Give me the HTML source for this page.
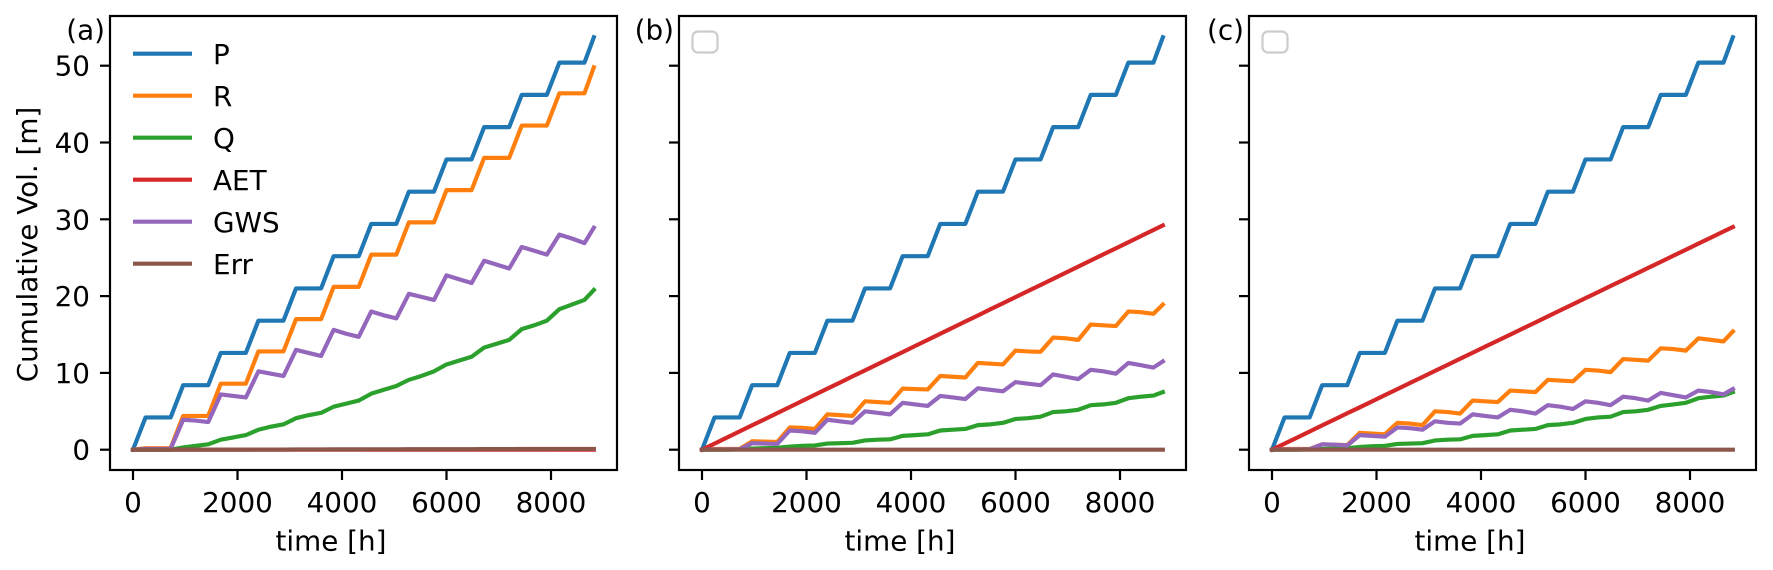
<!DOCTYPE html>
<html>
<head>
<meta charset="utf-8">
<title>Cumulative volumes</title>
<style>
html,body{margin:0;padding:0;background:#fff;width:1773px;height:570px;overflow:hidden}
svg{display:block}
text{font-family:"DejaVu Sans","Liberation Sans",sans-serif;fill:#000}
</style>
</head>
<body>
<svg id="chart" xmlns="http://www.w3.org/2000/svg" width="1773" height="570" viewBox="0 0 1773 570"></svg>
<script>
const timeHours = [0,240,480,720,960,1200,1440,1680,1920,2160,2400,2640,2880,3120,3360,3600,3840,4080,4320,4560,4800,5040,5280,5520,5760,6000,6240,6480,6720,6960,7200,7440,7680,7920,8160,8400,8640,8820];
const xTickValues = [0,2000,4000,6000,8000];
const yTickValues = [0,10,20,30,40,50];
const seriesNames = ['P','R','Q','AET','GWS','Err'];
const panelLetters = ['(a)','(b)','(c)'];

const precipitation = [0,4.2,4.2,4.2,8.4,8.4,8.4,12.6,12.6,12.6,16.8,16.8,16.8,21,21,21,25.2,25.2,25.2,29.4,29.4,29.4,33.6,33.6,33.6,37.8,37.8,37.8,42,42,42,46.2,46.2,46.2,50.4,50.4,50.4,53.7];

const panelA_R = [0,.2,.2,.2,4.4,4.4,4.4,8.6,8.6,8.6,12.8,12.8,12.8,17,17,17,21.2,21.2,21.2,25.4,25.4,25.4,29.6,29.6,29.6,33.8,33.8,33.8,38,38,38,42.2,42.2,42.2,46.4,46.4,46.4,49.8];
const panelA_Q = [0,0,0,0,.3,.5,.7,1.3,1.6,1.9,2.6,3,3.3,4.1,4.5,4.8,5.6,6,6.4,7.3,7.8,8.3,9.1,9.6,10.2,11.1,11.6,12.1,13.3,13.8,14.3,15.7,16.2,16.8,18.3,18.9,19.5,20.8];
const panelA_AET = [0,0,0,0,0,0,0,0,0,0,0,0,0,0,0,0,0,0,0,0,0,0,0,0,0,0,0,0,0,0,0,0,0,0,0,0,0,0];
const panelA_GWS = [0,.1,.1,.1,3.9,3.8,3.6,7.2,7,6.8,10.2,9.9,9.6,13,12.6,12.2,15.6,15.1,14.7,18,17.5,17.1,20.3,19.9,19.5,22.7,22.2,21.7,24.6,24.1,23.6,26.4,25.9,25.4,28,27.5,26.9,28.9];
const panelA_Err = [0,0,0,0,0,0,0,.01,.01,.01,.02,.02,.02,.03,.03,.03,.04,.04,.04,.05,.05,.05,.06,.06,.06,.07,.07,.07,.08,.08,.08,.09,.09,.09,.1,.1,.1,.1];

const panelB_R = [0,.1,.1,.1,1.1,1.05,1,2.9,2.85,2.7,4.6,4.5,4.4,6.3,6.2,6.1,7.95,7.9,7.85,9.6,9.5,9.4,11.3,11.2,11.1,12.9,12.8,12.75,14.6,14.5,14.3,16.3,16.2,16.1,18,17.9,17.7,18.9];
const panelB_Q = [0,0,0,.05,.15,.2,.25,.4,.5,.55,.8,.85,.9,1.2,1.3,1.35,1.8,1.9,2,2.5,2.6,2.7,3.2,3.3,3.5,4,4.1,4.3,4.9,5,5.2,5.8,5.9,6.1,6.7,6.9,7.05,7.5];
const panelB_AET = [0,.79,1.59,2.38,3.18,3.97,4.77,5.56,6.36,7.15,7.95,8.74,9.54,10.33,11.12,11.92,12.71,13.51,14.3,15.1,15.89,16.69,17.48,18.28,19.07,19.86,20.66,21.45,22.25,23.04,23.84,24.63,25.43,26.22,27.02,27.81,28.61,29.2];
const panelB_GWS = [0,.05,.05,.05,.85,.8,.75,2.5,2.4,2.2,3.9,3.7,3.5,5,4.8,4.6,6.1,5.9,5.7,7,6.8,6.6,8,7.8,7.6,8.8,8.6,8.4,9.8,9.5,9.2,10.4,10.2,9.9,11.3,11,10.7,11.5];
const panelB_Err = [0,0,0,0,0,0,0,0,0,0,0,0,0,0,0,0,0,0,0,0,0,0,0,0,0,0,0,0,0,0,0,0,0,0,0,0,0,0];

const panelC_R = [0,.1,.1,.1,.7,.65,.6,2.2,2.1,2,3.5,3.4,3.2,5,4.9,4.7,6.4,6.3,6.2,7.7,7.6,7.5,9.1,9,8.9,10.4,10.3,10.1,11.8,11.7,11.6,13.2,13.1,12.9,14.5,14.3,14.1,15.4];
const panelC_Q = [0,0,0,.05,.1,.15,.2,.35,.45,.5,.75,.8,.85,1.2,1.3,1.35,1.8,1.9,2,2.5,2.6,2.7,3.2,3.3,3.5,4,4.2,4.3,4.9,5,5.2,5.7,5.9,6.1,6.7,6.9,7.05,7.5];
const panelC_AET = [0,.79,1.58,2.37,3.16,3.95,4.74,5.52,6.31,7.1,7.89,8.68,9.47,10.26,11.05,11.84,12.63,13.42,14.2,14.99,15.78,16.57,17.36,18.15,18.94,19.73,20.52,21.31,22.1,22.88,23.67,24.46,25.25,26.04,26.83,27.62,28.41,29];
const panelC_GWS = [0,.05,.05,.05,.7,.65,.55,1.9,1.8,1.7,2.9,2.8,2.6,3.7,3.5,3.4,4.6,4.4,4.2,5.2,5,4.7,5.8,5.6,5.3,6.3,6.1,5.8,6.9,6.7,6.4,7.4,7.1,6.8,7.7,7.5,7.2,7.9];
const panelC_Err = [0,0,0,0,0,0,0,0,0,0,0,0,0,0,0,0,0,0,0,0,0,0,0,0,0,0,0,0,0,0,0,0,0,0,0,0,0,0];

const seriesColors = ['#1f77b4','#ff7f0e','#2ca02c','#d62728','#9467bd','#8c564b'];
const panels = [
  {left:110, series:[precipitation,panelA_R,panelA_Q,panelA_AET,panelA_GWS,panelA_Err]},
  {left:679, series:[precipitation,panelB_R,panelB_Q,panelB_AET,panelB_GWS,panelB_Err]},
  {left:1249, series:[precipitation,panelC_R,panelC_Q,panelC_AET,panelC_GWS,panelC_Err]}
];
const NS = 'http://www.w3.org/2000/svg';
const svg = document.getElementById('chart');
const top_ = 16, bottom_ = 470, axW = 507;
const pxPerHour = 0.05225, pxPerUnit = 7.68, zeroY = 449.7, zeroXOffset = 23;
const fontPx = 27.8;

function node(tag, attrs, parent, txt){
  const el = document.createElementNS(NS, tag);
  for(const k in attrs) el.setAttribute(k, attrs[k]);
  if(txt !== undefined) el.textContent = txt;
  parent.appendChild(el);
  return el;
}
function yScale(v){ return zeroY - v*pxPerUnit; }

const defs = node('defs', {}, svg);

panels.forEach(function(panel, pi){
  const left = panel.left;
  const xScale = function(t){ return left + zeroXOffset + t*pxPerHour; };
  const g = node('g', {}, svg);
  
  

  const clip = node('clipPath', {id:'clip'+pi}, defs);
  node('rect', {x:left, y:top_, width:axW, height:bottom_-top_}, clip);

  const lines = node('g', {'clip-path':'url(#clip'+pi+')'}, g);
  
  
  panel.series.forEach(function(vals, si){
    const d = vals.map(function(v,i){ return (i?'L':'M') + xScale(timeHours[i]).toFixed(2) + ' ' + yScale(v).toFixed(2); }).join('');
    const p = node('path', {d:d, fill:'none', stroke:seriesColors[si], 'stroke-width':4.17, 'stroke-linecap':'square', 'stroke-linejoin':'round'}, lines);
    
    
  });

  const frame = node('rect', {x:left, y:top_, width:axW, height:bottom_-top_, fill:'none', stroke:'#000', 'stroke-width':2.2}, g);
  
  

  xTickValues.forEach(function(t){
    const x = xScale(t);
    const tick = node('line', {x1:x, x2:x, y1:bottom_, y2:bottom_+10, stroke:'#000', 'stroke-width':2.2}, g);
    
    
    const lab = node('text', {x:x, y:512, 'font-size':fontPx, 'text-anchor':'middle'}, g, String(t));
    
    
  });
  yTickValues.forEach(function(v){
    const y = yScale(v);
    const tick = node('line', {x1:left-10, x2:left, y1:y, y2:y, stroke:'#000', 'stroke-width':2.2}, g);
    
    
    if(pi === 0){
      const lab = node('text', {x:left-20, y:y+10, 'font-size':fontPx, 'text-anchor':'end'}, g, String(v));
      
      
    }
  });

  const xt = node('text', {x:left+221, y:550.5, 'font-size':fontPx, 'text-anchor':'middle'}, g, 'time [h]');
  
  

  const pl = node('text', {x:left-5, y:39.7, 'font-size':fontPx, 'text-anchor':'end'}, g, panelLetters[pi]);
  
  

  if(pi === 0){
    const yt = node('text', {x:0, y:0, 'font-size':fontPx, 'text-anchor':'middle', transform:'translate(37,244.5) rotate(-90)'}, g, 'Cumulative Vol. [m]');
    
    
    const legend = node('g', {}, g);
    
    
    seriesNames.forEach(function(name, si){
      const ly = 53.7 + si*42;
      const entry = node('g', {}, legend);
      
      
      node('line', {x1:133, x2:192, y1:ly, y2:ly, stroke:seriesColors[si], 'stroke-width':4.17}, entry);
      node('text', {x:213, y:ly+10.3, 'font-size':fontPx}, entry, name);
    });
  } else {
    const box = node('rect', {x:left+13.5, y:31.5, width:25, height:21, rx:5.5, ry:5.5, fill:'#fff', stroke:'#ccc', 'stroke-width':2.2}, g);
    
    
  }
});
</script>
</body>
</html>
